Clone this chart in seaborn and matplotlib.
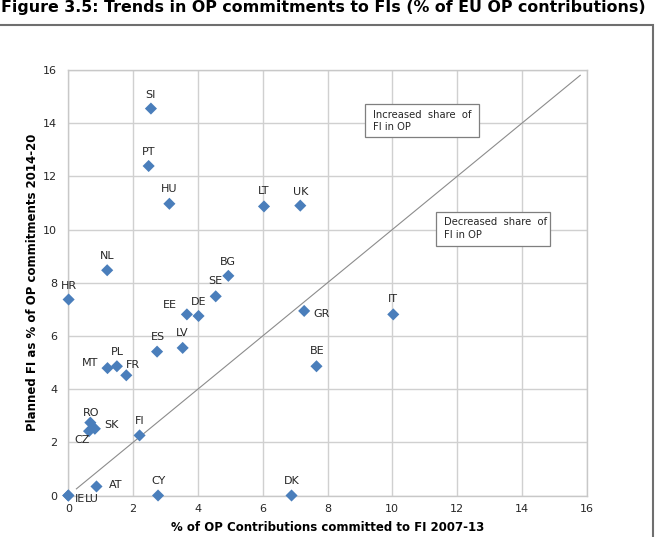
import matplotlib
matplotlib.use('Agg')
import matplotlib.pyplot as plt
from matplotlib.patches import Rectangle
import seaborn as sns
import pandas as pd

countries = ['SI', 'PT', 'HU', 'LT', 'UK', 'NL', 'BG', 'SE', 'HR', 'EE', 'DE', 'GR', 'IT', 'ES',
             'LV', 'BE', 'MT', 'PL', 'FR', 'RO', 'SK', 'CZ', 'FI', 'IE', 'LU', 'AT', 'CY', 'DK']
fi_2007_13 = [2.55, 2.48, 3.12, 6.04, 7.16, 1.20, 4.94, 4.55, 0.01, 3.66, 4.02, 7.28, 10.03, 2.74,
              3.53, 7.66, 1.21, 1.50, 1.79, 0.68, 0.82, 0.64, 2.20, 0.0, 0.0, 0.87, 2.77, 6.89]
fi_2014_20 = [14.55, 12.39, 10.97, 10.87, 10.90, 8.47, 8.26, 7.49, 7.37, 6.81, 6.75, 6.94, 6.81, 5.41,
              5.55, 4.86, 4.79, 4.86, 4.52, 2.74, 2.51, 2.42, 2.26, 0.0, 0.0, 0.34, 0.0, 0.0]
# label offsets in pixels (dx, dy)
label_off = {'SI': (0, 14), 'PT': (0, 14), 'HU': (0, 15), 'LT': (0, 15), 'UK': (0, 14),
             'NL': (0, 14), 'BG': (0, 14), 'SE': (0, 15), 'HR': (0, 14), 'EE': (-17, 9),
             'DE': (0, 14), 'GR': (17, -3), 'IT': (0, 15), 'ES': (1, 15), 'LV': (0, 15),
             'BE': (1, 15), 'MT': (-17, 5), 'PL': (0, 14), 'FR': (7, 10), 'RO': (1, 10),
             'SK': (17, 4), 'CZ': (-7, -9), 'FI': (0, 14), 'IE': (12, -4), 'LU': (24, -4),
             'AT': (19, 1), 'CY': (0, 15), 'DK': (0, 15)}

df = pd.DataFrame({'country': countries, 'x': fi_2007_13, 'y': fi_2014_20})

plt.rcParams['font.family'] = 'DejaVu Sans'
fig = plt.figure(figsize=(6.59, 5.37), dpi=100)
ax = fig.add_axes([68.3 / 659, 41.5 / 537, 518.4 / 659, 425.5 / 537])

ax.plot([0.25, 15.8], [0.25, 15.8], color='#8c8c8c', lw=0.8, zorder=1)
sns.scatterplot(data=df, x='x', y='y', marker='D', s=38, color='#4a7ebb',
                edgecolor='none', ax=ax, zorder=3, clip_on=False)

for c, xv, yv in zip(countries, fi_2007_13, fi_2014_20):
    dx, dy = label_off[c]
    ax.annotate(c, (xv, yv), xytext=(dx, dy), textcoords='offset pixels',
                ha='center', va='center', fontsize=8, color='#262626')

ax.set_xlim(0, 16)
ax.set_ylim(0, 16)
ax.set_xticks(range(0, 17, 2))
ax.set_yticks(range(0, 17, 2))
ax.grid(True, color='#d0d0d0', lw=1)
ax.set_axisbelow(True)
for s in ax.spines.values():
    s.set_color('#c8c8c8')
    s.set_linewidth(1)
ax.tick_params(axis='x', length=0, labelsize=8, colors='#262626', pad=6)
ax.tick_params(axis='y', length=0, labelsize=8, colors='#262626', pad=8)
ax.set_xlabel('% of OP Contributions committed to FI 2007-13', fontsize=8.5,
              fontweight='bold', labelpad=5)
ax.set_ylabel('Planned FI as % of OP commitments 2014-20', fontsize=8.5,
              fontweight='bold', labelpad=3)

# note boxes
for (x0, y0, x1, y1) in [(9.17, 13.47, 12.69, 14.71), (11.35, 9.39, 14.88, 10.65)]:
    ax.add_patch(Rectangle((x0, y0), x1 - x0, y1 - y0, fc='white', ec='#7f7f7f',
                           lw=0.9, zorder=2))
ax.text(9.40, 14.08, 'Increased  share  of\nFI in OP', fontsize=7.2, va='center', ha='left',
        color='#262626', linespacing=1.35, zorder=4)
ax.text(11.60, 10.04, 'Decreased  share  of\nFI in OP', fontsize=7.2, va='center', ha='left',
        color='#262626', linespacing=1.35, zorder=4)

fig.patches.append(Rectangle((-0.01, -0.05), 653 / 659 + 0.01, 1 - 25 / 537 + 0.05,
                             transform=fig.transFigure, fill=False, ec='#6f6f6f', lw=1.5))
fig.text(0.001, 1 - 12 / 537, 'Figure 3.5: Trends in OP commitments to FIs (% of EU OP contributions)',
         fontsize=11.4, fontweight='bold', va='baseline', ha='left')

fig.savefig('out.png', dpi=100)
